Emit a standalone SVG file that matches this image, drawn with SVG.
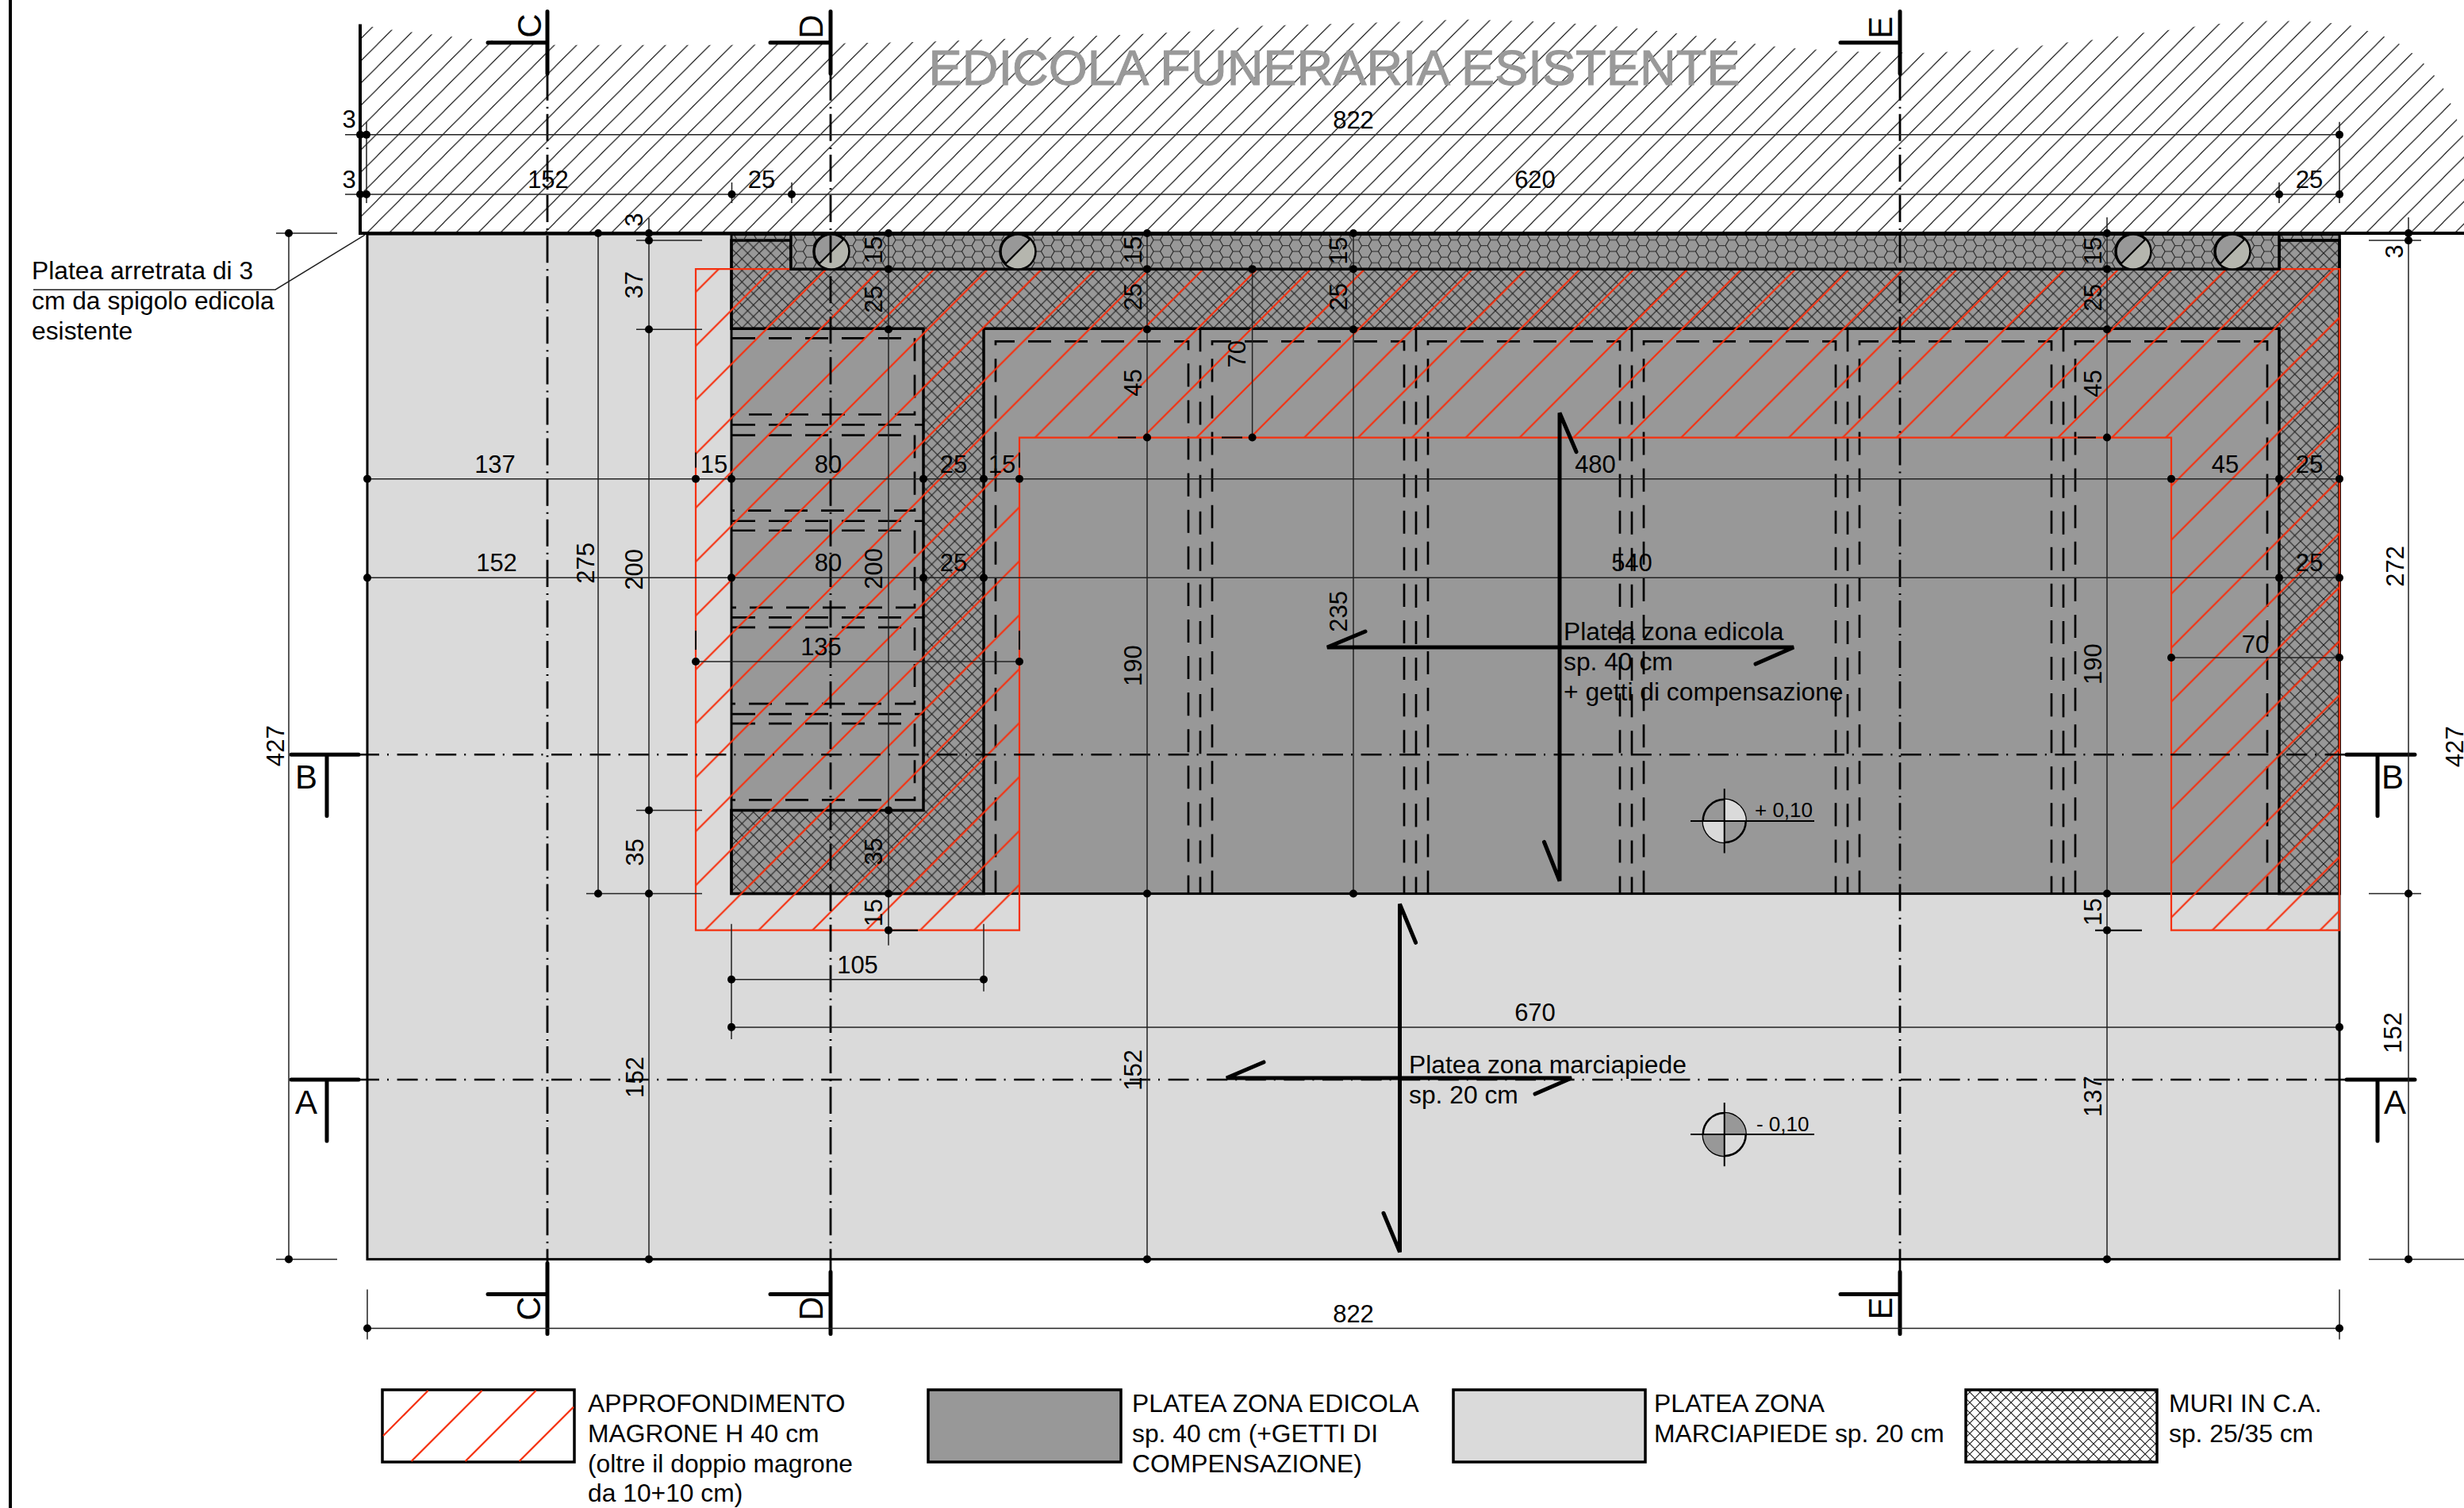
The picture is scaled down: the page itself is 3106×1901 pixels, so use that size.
<svg xmlns="http://www.w3.org/2000/svg" width="3106" height="1901" viewBox="0 0 3106 1901">
<style>
text{font-family:"Liberation Sans",Arial,sans-serif;fill:#000}
.n{font-size:31px;text-anchor:middle}
.l{font-size:31.8px}
.s{font-size:42px;text-anchor:middle}
.dim{fill:none;stroke:#222;stroke-width:1.5}
.d{fill:#000}
.thick{fill:none;stroke:#000;stroke-width:5;stroke-linecap:round}
.ddv{fill:none;stroke:#000;stroke-width:2.8;stroke-dasharray:34 8 2 7}
.ddh{fill:none;stroke:#000;stroke-width:2.6;stroke-dasharray:26 10 2 10.6}
.dash{fill:none;stroke:#000;stroke-width:2.7;stroke-dasharray:29 17}
.red{fill:none;stroke:#f5300f;stroke-width:2.2}
.leg{stroke:#000;stroke-width:3.5}
</style>
<defs>
<pattern id="hatch" patternUnits="userSpaceOnUse" width="28" height="28"><path d="M-2,30 L30,-2 M-2,2 L2,-2 M26,30 L30,26" stroke="#222" stroke-width="1.2" fill="none"/></pattern>
<pattern id="redh" patternUnits="userSpaceOnUse" width="67.87" height="67.87" patternTransform="translate(0 23.3)"><path d="M-2,69.87 L69.87,-2 M-2,2 L2,-2 M65.87,69.87 L69.87,65.87" stroke="#f5300f" stroke-width="2.2" fill="none"/></pattern>
<pattern id="cross" patternUnits="userSpaceOnUse" width="14.5" height="14.5"><path d="M-1,15.5 L15.5,-1 M-1,-1 L15.5,15.5 M-1,1 L1,-1 M13.5,15.5 L15.5,13.5 M13.5,-1 L15.5,1 M-1,13.5 L1,15.5" stroke="#1c1c1c" stroke-width="1.1" fill="none"/></pattern>
<pattern id="crossl" patternUnits="userSpaceOnUse" width="13" height="13"><path d="M-1,14 L14,-1 M-1,-1 L14,14 M-1,1 L1,-1 M12,14 L14,12 M12,-1 L14,1 M-1,12 L1,14" stroke="#1c1c1c" stroke-width="1.1" fill="none"/></pattern>
<pattern id="honey" patternUnits="userSpaceOnUse" width="25" height="14.4"><path d="M0,7.2 L4.15,0 L12.45,0 L16.6,7.2 L12.45,14.4 L4.15,14.4 Z M16.6,7.2 H25" stroke="#222" stroke-width="1.1" fill="none"/></pattern>
</defs>
<rect width="3106" height="1901" fill="#fff"/>
<rect x="11" y="0" width="4" height="1901" fill="#000"/>

<g id="plan" transform="matrix(1 0 0 1.0018 0 -0.45)">
<g id="existing-building">
<polygon points="456,31 477,36 600,50 701,57 915,57 1052,55 1166,53 1305,48 1422,44 1505,40 1591,33 1704,30 1844,25 1953,28 2054,35 2149,47 2246,60 2320,65 2428,67 2513,63 2541,61 2572,58 2603,54 2634,51 2665,47 2698,42 2729,39 2760,35 2788,31 2819,29 2850,27 2901,27 2930,29 2958,31 2976,37 2997,43 3017,51 3033,61 3048,73 3061,86 3074,102 3084,118 3092,137 3106,175 3106,294 456,294" fill="url(#hatch)"/>
<path d="M454,31 V294 H3106" fill="none" stroke="#000" stroke-width="4"/>
<text x="1682" y="107" font-size="63" style="fill:#999;stroke:#999;stroke-width:1" text-anchor="middle" textLength="1023" lengthAdjust="spacingAndGlyphs">EDICOLA FUNERARIA ESISTENTE</text>
</g>

<g id="slab-sidewalk"><rect x="463" y="295" width="2486" height="1290" fill="#dadada" stroke="#000" stroke-width="3"/></g>
<g id="slab-edicola"><rect x="922" y="295" width="2027" height="830" fill="#989898" stroke="#000" stroke-width="3"/></g>

<g id="beams">
<path class="dash" d="M923,426 H1153 V522 H923 M923,548 H1153 V643 H923 M923,668 H1153 V765 H923 M923,790 H1153 V886 H923 M923,911 H1153 V1007 H923"/>
<path class="dash" d="M923,535 H1164 M923,656 H1164 M923,777.5 H1164 M923,899 H1164"/>
<path class="dash" d="M1255,1125 V430 H1498 V1125 M1528,1125 V430 H1770 V1125 M1800,1125 V430 H2042 V1125 M2072,1125 V430 H2314 V1125 M2344,1125 V430 H2586 V1125 M2616,1125 V430 H2858 V1125"/>
<path class="dash" d="M1513,414 V1125 M1785,414 V1125 M2057,414 V1125 M2329,414 V1125 M2601,414 V1125"/>
</g>

<g id="walls">
<path d="M922,303 H997 V339 H2873 V303 H2949 V1125 H2873 V414 H1240 V1125 H922 V1020 H1164 V414 H922 Z" fill="url(#cross)" stroke="#000" stroke-width="3.5"/>
</g>

<g id="deepening">
<polygon points="877,339 2949,339 2949,1171 2737,1171 2737,551 1285,551 1285,1171 877,1171" class="red" style="fill:url(#redh)"/>
</g>

<g id="niche">
<path d="M997,295 H2873 V339 H997 Z" fill="#989898" stroke="none"/>
<path d="M997,295 H2873 V339 H997 Z" fill="url(#honey)" stroke="#000" stroke-width="3.5"/>
<rect x="922" y="296" width="75" height="7" fill="url(#honey)"/>
<rect x="2873" y="296" width="76" height="7" fill="url(#honey)"/>
<path d="M2873,303 H2949" stroke="#000" stroke-width="3"/>
<path d="M922,295 H2949" stroke="#000" stroke-width="4"/>
<g fill="#989898" stroke="#000" stroke-width="3.5">
<circle cx="1048" cy="317" r="22"/><circle cx="1283" cy="317" r="22"/><circle cx="2689" cy="317" r="22"/><circle cx="2814" cy="317" r="22"/>
</g>
<g fill="#b5b6ae" stroke="none">
<path d="M1033,332 A21,21 0 0 0 1063,302 Z"/><path d="M1268,332 A21,21 0 0 0 1298,302 Z"/><path d="M2674,332 A21,21 0 0 0 2704,302 Z"/><path d="M2799,332 A21,21 0 0 0 2829,302 Z"/>
</g>
<path d="M1032.4,332.6 L1063.6,301.4 M1267.4,332.6 L1298.6,301.4 M2673.4,332.6 L2704.6,301.4 M2798.4,332.6 L2829.6,301.4" stroke="#000" stroke-width="2.2" fill="none"/>
</g>

<g id="section-lines">
<path class="ddv" d="M690,93 V1590 M1047,93 V1601 M2395,93 V1601"/>
<path class="ddh" d="M452,950 H2958 M452,1359 H2958"/>
<path class="thick" d="M690,15 V93 M615,54 H690 M1047,15 V93 M971,54 H1047 M2395,15 V93 M2320,54 H2395"/>
<path class="thick" d="M690,1590 V1679 M615,1629 H690 M1047,1601 V1679 M971,1629 H1047 M2395,1601 V1679 M2320,1629 H2395"/>
<path class="thick" d="M367,950 H452 M412,950 V1027 M367,1359 H452 M412,1359 V1436 M2958,950 H3044 M2997,950 V1027 M2958,1359 H3044 M2997,1359 V1436"/>
<text class="s" transform="translate(682 33) rotate(-90)">C</text>
<text class="s" transform="translate(1037 34) rotate(-90)">D</text>
<text class="s" transform="translate(2385 35) rotate(-90)">E</text>
<text class="s" transform="translate(681 1647) rotate(-90)">C</text>
<text class="s" transform="translate(1037 1647) rotate(-90)">D</text>
<text class="s" transform="translate(2385 1647) rotate(-90)">E</text>
<text class="s" x="386" y="993">B</text><text class="s" x="386" y="1402">A</text>
<text class="s" x="3016" y="993">B</text><text class="s" x="3019" y="1402">A</text>
</g>

<g id="dimensions">
<path class="dim" d="M435,170 H2949 M435,245 H2949 M462,154 V256 M2949,154 V256 M922.5,230 V256 M998,230 V256 M2873,230 V256"/>
<path class="dim" d="M348,294 H425 M364,294 V1585 M348,1585 H425 M754,294 V1125 M739,1125 H885 M818,275 V1585 M802,303 H885 M802,415 H885 M802,1020 H885"/>
<path class="dim" d="M1120,294 V1190 M1120,1171 H1157 M1446,294 V1585 M1578.6,339 V551 M1706,294 V1125 M2656,274 V1585 M2641,1171 H2700 M3036,274 V1585 M2986,303 H3052 M2986,1125 H3052 M2986,1585 H3106"/>
<path class="dim" d="M463,603 H2949 M463,727.5 H2949 M877,833 H1285 M2737,828 H2949 M922,1233 H1240 M922,1163 V1308 M1240,1163 V1248 M922,1293 H2949 M463,1672 H2949 M463,1623 V1686 M2949,1623 V1686"/>
<path d="M2619,551 H2642 M1409,551 H1432 M1540,551 H1566 M877,570 V589 M1285,570 V589 M877,794 V818 M1285,794 V818 M1120,1171 H1157 M2641,1171 H2700" stroke="#000" stroke-width="2" fill="none"/>
<g class="d">
<circle cx="454" cy="170" r="5"/><circle cx="462" cy="170" r="5"/><circle cx="2949" cy="170" r="5"/>
<circle cx="454" cy="245" r="5"/><circle cx="462" cy="245" r="5"/><circle cx="922.5" cy="245" r="5"/><circle cx="998" cy="245" r="5"/><circle cx="2873" cy="245" r="5"/><circle cx="2949" cy="245" r="5"/>
<circle cx="364" cy="294" r="5"/><circle cx="364" cy="1585" r="5"/><circle cx="754" cy="294" r="5"/><circle cx="754" cy="1125" r="5"/>
<circle cx="818" cy="294" r="5"/><circle cx="818" cy="303" r="5"/><circle cx="818" cy="415" r="5"/><circle cx="818" cy="1020" r="5"/><circle cx="818" cy="1125" r="5"/><circle cx="818" cy="1585" r="5"/>
<circle cx="1120" cy="294" r="5"/><circle cx="1120" cy="339" r="5"/><circle cx="1120" cy="415" r="5"/><circle cx="1120" cy="1020" r="5"/><circle cx="1120" cy="1125" r="5"/><circle cx="1120" cy="1171" r="5"/>
<circle cx="1446" cy="294" r="5"/><circle cx="1446" cy="339" r="5"/><circle cx="1446" cy="415" r="5"/><circle cx="1446" cy="551" r="5"/><circle cx="1446" cy="1125" r="5"/><circle cx="1446" cy="1585" r="5"/>
<circle cx="1578.6" cy="339" r="5"/><circle cx="1578.6" cy="551" r="5"/>
<circle cx="1706" cy="294" r="5"/><circle cx="1706" cy="339" r="5"/><circle cx="1706" cy="415" r="5"/><circle cx="1706" cy="1125" r="5"/>
<circle cx="2656" cy="294" r="5"/><circle cx="2656" cy="339" r="5"/><circle cx="2656" cy="415" r="5"/><circle cx="2656" cy="551" r="5"/><circle cx="2656" cy="1125" r="5"/><circle cx="2656" cy="1171" r="5"/><circle cx="2656" cy="1585" r="5"/>
<circle cx="3036" cy="294" r="5"/><circle cx="3036" cy="303" r="5"/><circle cx="3036" cy="1125" r="5"/><circle cx="3036" cy="1585" r="5"/>
<circle cx="463" cy="603" r="5"/><circle cx="877" cy="603" r="5"/><circle cx="922" cy="603" r="5"/><circle cx="1164" cy="603" r="5"/><circle cx="1240" cy="603" r="5"/><circle cx="1285" cy="603" r="5"/><circle cx="2737" cy="603" r="5"/><circle cx="2873" cy="603" r="5"/><circle cx="2949" cy="603" r="5"/>
<circle cx="463" cy="727.5" r="5"/><circle cx="922" cy="727.5" r="5"/><circle cx="1164" cy="727.5" r="5"/><circle cx="1240" cy="727.5" r="5"/><circle cx="2873" cy="727.5" r="5"/><circle cx="2949" cy="727.5" r="5"/>
<circle cx="877" cy="833" r="5"/><circle cx="1285" cy="833" r="5"/><circle cx="2737" cy="828" r="5"/><circle cx="2949" cy="828" r="5"/>
<circle cx="922" cy="1233" r="5"/><circle cx="1240" cy="1233" r="5"/><circle cx="922" cy="1293" r="5"/><circle cx="2949" cy="1293" r="5"/><circle cx="463" cy="1672" r="5"/><circle cx="2949" cy="1672" r="5"/>
</g>
<g id="dim-text-h">
<text class="n" x="1706" y="162">822</text><text class="n" x="440" y="161">3</text><text class="n" x="440" y="237">3</text>
<text class="n" x="691" y="237">152</text><text class="n" x="960" y="237">25</text><text class="n" x="1935" y="237">620</text><text class="n" x="2911" y="237">25</text>
<text class="n" x="624" y="595">137</text><text class="n" x="900" y="595">15</text><text class="n" x="1044" y="595">80</text><text class="n" x="1202" y="595">25</text><text class="n" x="1263" y="595">15</text><text class="n" x="2011" y="595">480</text><text class="n" x="2805" y="595">45</text><text class="n" x="2911" y="595">25</text>
<text class="n" x="626" y="719">152</text><text class="n" x="1044" y="719">80</text><text class="n" x="1202" y="719">25</text><text class="n" x="2057" y="719">540</text><text class="n" x="2911" y="719">25</text>
<text class="n" x="1035" y="825">135</text><text class="n" x="2843" y="822">70</text>
<text class="n" x="1081" y="1225">105</text><text class="n" x="1935" y="1285">670</text><text class="n" x="1706" y="1664">822</text>
</g>
<g id="dim-text-v">
<text class="n" transform="translate(358 939) rotate(-90)">427</text><text class="n" transform="translate(749 709) rotate(-90)">275</text>
<text class="n" transform="translate(810 277) rotate(-90)">3</text><text class="n" transform="translate(810 359) rotate(-90)">37</text><text class="n" transform="translate(810 717) rotate(-90)">200</text><text class="n" transform="translate(811 1073) rotate(-90)">35</text><text class="n" transform="translate(811 1356) rotate(-90)">152</text>
<text class="n" transform="translate(1112 315) rotate(-90)">15</text><text class="n" transform="translate(1112 377) rotate(-90)">25</text><text class="n" transform="translate(1112 716) rotate(-90)">200</text><text class="n" transform="translate(1112 1072) rotate(-90)">35</text><text class="n" transform="translate(1112 1149) rotate(-90)">15</text>
<text class="n" transform="translate(1439 315) rotate(-90)">15</text><text class="n" transform="translate(1439 374) rotate(-90)">25</text><text class="n" transform="translate(1439 482) rotate(-90)">45</text><text class="n" transform="translate(1439 838) rotate(-90)">190</text><text class="n" transform="translate(1439 1347) rotate(-90)">152</text>
<text class="n" transform="translate(1570 446) rotate(-90)">70</text>
<text class="n" transform="translate(1698 316) rotate(-90)">15</text><text class="n" transform="translate(1698 374) rotate(-90)">25</text><text class="n" transform="translate(1698 770) rotate(-90)">235</text>
<text class="n" transform="translate(2649 316) rotate(-90)">15</text><text class="n" transform="translate(2649 375) rotate(-90)">25</text><text class="n" transform="translate(2649 483) rotate(-90)">45</text><text class="n" transform="translate(2649 836) rotate(-90)">190</text><text class="n" transform="translate(2649 1148) rotate(-90)">15</text><text class="n" transform="translate(2649 1380) rotate(-90)">137</text>
<text class="n" transform="translate(3029 317) rotate(-90)">3</text><text class="n" transform="translate(3030 713) rotate(-90)">272</text><text class="n" transform="translate(3027 1300) rotate(-90)">152</text><text class="n" transform="translate(3105 940) rotate(-90)">427</text>
</g>
</g>

<g id="note-platea-arretrata">
<path d="M42,365 H347 L460,296" fill="none" stroke="#222" stroke-width="1.5"/>
<text class="l" x="40" y="352">Platea arretrata di 3</text>
<text class="l" x="40" y="390">cm da spigolo edicola</text>
<text class="l" x="40" y="428">esistente</text>
</g>

<g id="zone-edicola">
<path class="thick" d="M1721,795 L1673,815 H2261 L2213,836 M1987,569 L1966,520 V1109 L1946.5,1060"/>
<text class="l" x="1971" y="806">Platea zona edicola</text>
<text class="l" x="1971" y="844">sp. 40 cm</text>
<text class="l" x="1971" y="882">+ getti di compensazione</text>
</g>
<g id="zone-marciapiede">
<path class="thick" d="M1593,1337 L1546,1357 H1981 L1935,1377 M1784.6,1186.6 L1764.5,1138 V1576 L1744,1527"/>
<text class="l" x="1776" y="1351">Platea zona marciapiede</text>
<text class="l" x="1776" y="1389">sp. 20 cm</text>
</g>

<g id="level-plus">
<circle cx="2173.7" cy="1033.5" r="27" fill="#989898" stroke="#000" stroke-width="2.5"/>
<path d="M2173.7,1033.5 V1006.5 A27,27 0 0 1 2200.7,1033.5 Z M2173.7,1033.5 V1060.5 A27,27 0 0 1 2146.7,1033.5 Z" fill="#dadada"/>
<path d="M2173.7,993 V1074 M2131,1033.5 H2287" stroke="#000" stroke-width="2" fill="none"/>
<text x="2212" y="1029" font-size="26">+ 0,10</text>
</g>
<g id="level-minus">
<circle cx="2173.7" cy="1428" r="27" fill="#dadada" stroke="#000" stroke-width="2.5"/>
<path d="M2173.7,1428 V1401 A27,27 0 0 1 2200.7,1428 Z M2173.7,1428 V1455 A27,27 0 0 1 2146.7,1428 Z" fill="#989898"/>
<path d="M2173.7,1388 V1468 M2131,1428 H2287" stroke="#000" stroke-width="2" fill="none"/>
<text x="2214" y="1424" font-size="26">- 0,10</text>
</g>
</g>

<g id="legend-1">
<rect class="leg" x="482" y="1752" width="242" height="91" fill="#fff"/>
<path class="red" d="M539.6,1753 L483,1810 M607.6,1753 L518.6,1842 M675.6,1753 L586.6,1842 M723,1773.6 L654.6,1842"/>
<text class="l" x="741" y="1779.5">APPROFONDIMENTO</text><text class="l" x="741" y="1817.5">MAGRONE H 40 cm</text><text class="l" x="741" y="1856">(oltre il doppio magrone</text><text class="l" x="741" y="1893">da 10+10 cm)</text>
</g>
<g id="legend-2">
<rect class="leg" x="1170" y="1752" width="243" height="91" fill="#989898"/>
<text class="l" x="1427" y="1779.5">PLATEA ZONA EDICOLA</text><text class="l" x="1427" y="1817.5">sp. 40 cm (+GETTI DI</text><text class="l" x="1427" y="1856">COMPENSAZIONE)</text>
</g>
<g id="legend-3">
<rect class="leg" x="1832" y="1752" width="242" height="91" fill="#dadada"/>
<text class="l" x="2085" y="1779.5">PLATEA ZONA</text><text class="l" x="2085" y="1817.5">MARCIAPIEDE sp. 20 cm</text>
</g>
<g id="legend-4">
<rect class="leg" x="2478" y="1752" width="241" height="91" fill="url(#crossl)"/>
<text class="l" x="2734" y="1779.5">MURI IN C.A.</text><text class="l" x="2734" y="1817.5">sp. 25/35 cm</text>
</g>
</svg>
